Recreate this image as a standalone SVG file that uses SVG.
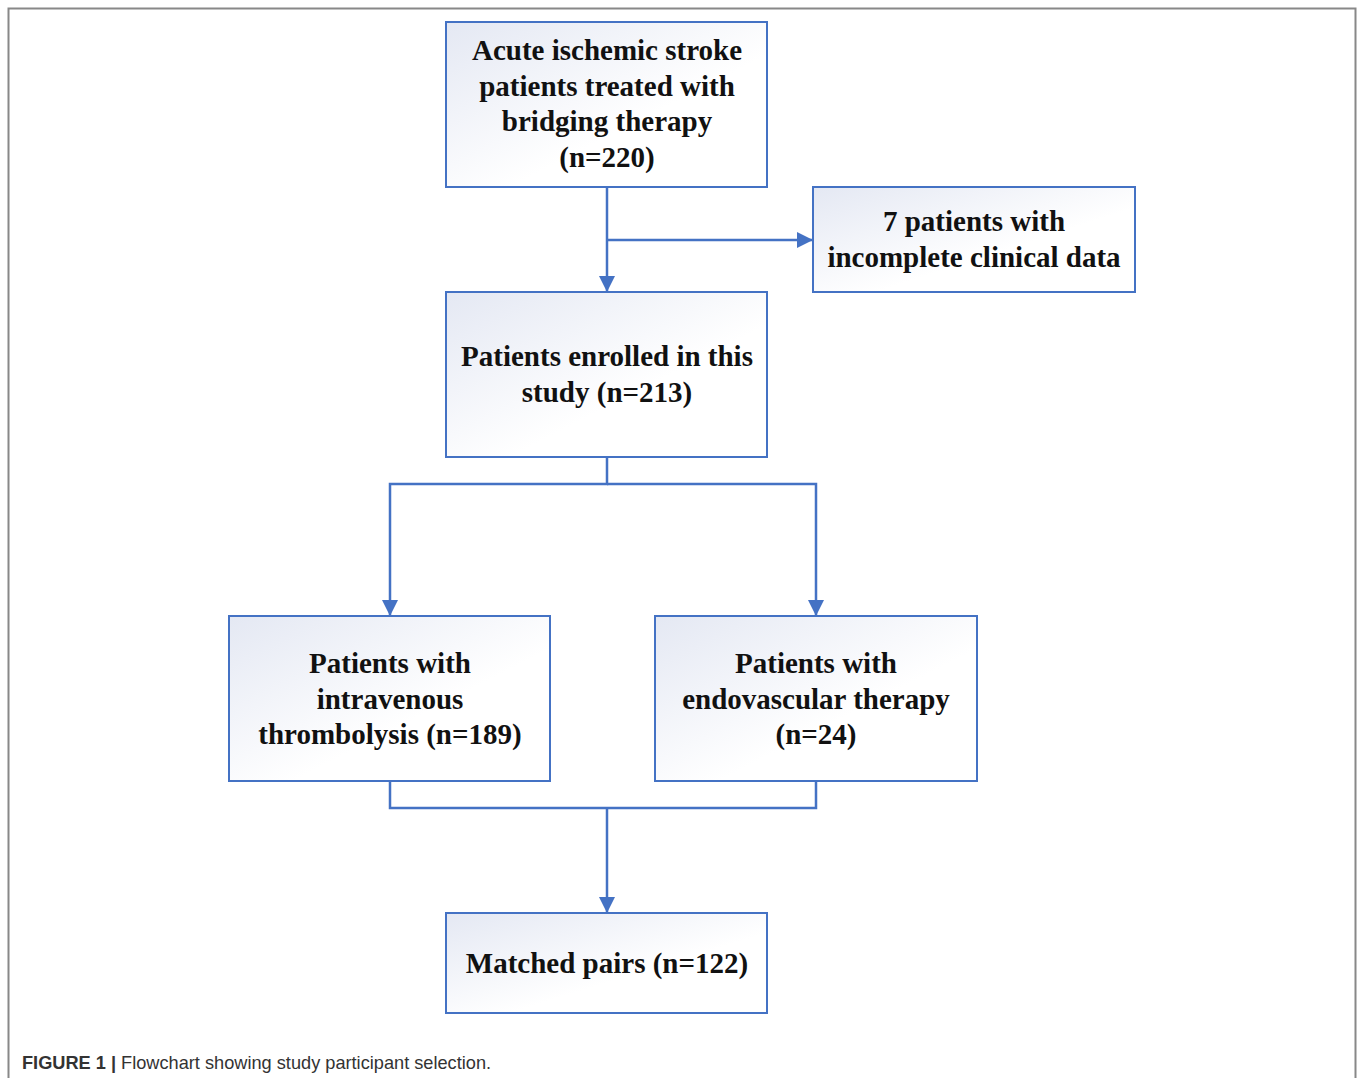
<svg xmlns="http://www.w3.org/2000/svg" width="1357" height="1078" viewBox="0 0 1357 1078">
<style>
.box{stroke:#4472C4;stroke-width:2;fill:url(#g)}
.t{font-family:"Liberation Serif","Times New Roman",serif;font-weight:bold;font-size:29px;fill:#111;text-anchor:middle}
.c{fill:none;stroke:#4472C4;stroke-width:2.5}
.cap{font-family:"Liberation Sans",Arial,sans-serif;font-size:18.2px;fill:#333}
</style>
<defs>
<linearGradient id="g" x1="0" y1="0" x2="1" y2="1">
<stop offset="0" stop-color="#e4e8f3"/>
<stop offset="0.6" stop-color="#ffffff"/>
</linearGradient>
<marker id="ah" viewBox="0 0 16 16" refX="16" refY="8" markerWidth="16" markerHeight="16" orient="auto" markerUnits="userSpaceOnUse">
<path d="M0,0 L16,8 L0,16 z" fill="#4472C4"/>
</marker>
</defs>
<rect width="1357" height="1078" fill="#fff"/>
<path d="M8.5,1078 V8.5 H1355.5 V1078" fill="none" stroke="#888" stroke-width="2"/>
<g id="connectors">
<path class="c" d="M607,187 V292" marker-end="url(#ah)"/>
<path class="c" d="M607,240 H813" marker-end="url(#ah)"/>
<path class="c" d="M607,457 V484 H390 V616" marker-end="url(#ah)"/>
<path class="c" d="M607,484 H816 V616" marker-end="url(#ah)"/>
<path class="c" d="M390,781 V808 H816 V781"/>
<path class="c" d="M607,808 V913" marker-end="url(#ah)"/>
</g>
<g id="n1"><rect class="box" x="446" y="22" width="321" height="165"/>
<text class="t" x="607" y="60">Acute ischemic stroke</text>
<text class="t" x="607" y="96">patients treated with</text>
<text class="t" x="607" y="131">bridging therapy</text>
<text class="t" x="607" y="167">(n=220)</text></g>
<g id="n2"><rect class="box" x="813" y="187" width="322" height="105"/>
<text class="t" x="974" y="231">7 patients with</text>
<text class="t" x="974" y="267">incomplete clinical data</text></g>
<g id="n3"><rect class="box" x="446" y="292" width="321" height="165"/>
<text class="t" x="607" y="366">Patients enrolled in this</text>
<text class="t" x="607" y="402">study (n=213)</text></g>
<g id="n4"><rect class="box" x="229" y="616" width="321" height="165"/>
<text class="t" x="390" y="673">Patients with</text>
<text class="t" x="390" y="709">intravenous</text>
<text class="t" x="390" y="744">thrombolysis (n=189)</text></g>
<g id="n5"><rect class="box" x="655" y="616" width="322" height="165"/>
<text class="t" x="816" y="673">Patients with</text>
<text class="t" x="816" y="709">endovascular therapy</text>
<text class="t" x="816" y="744">(n=24)</text></g>
<g id="n6"><rect class="box" x="446" y="913" width="321" height="100"/>
<text class="t" x="607" y="973">Matched pairs (n=122)</text></g>
<text class="cap" x="22" y="1069"><tspan font-weight="bold">FIGURE 1 |</tspan> Flowchart showing study participant selection.</text>
</svg>
